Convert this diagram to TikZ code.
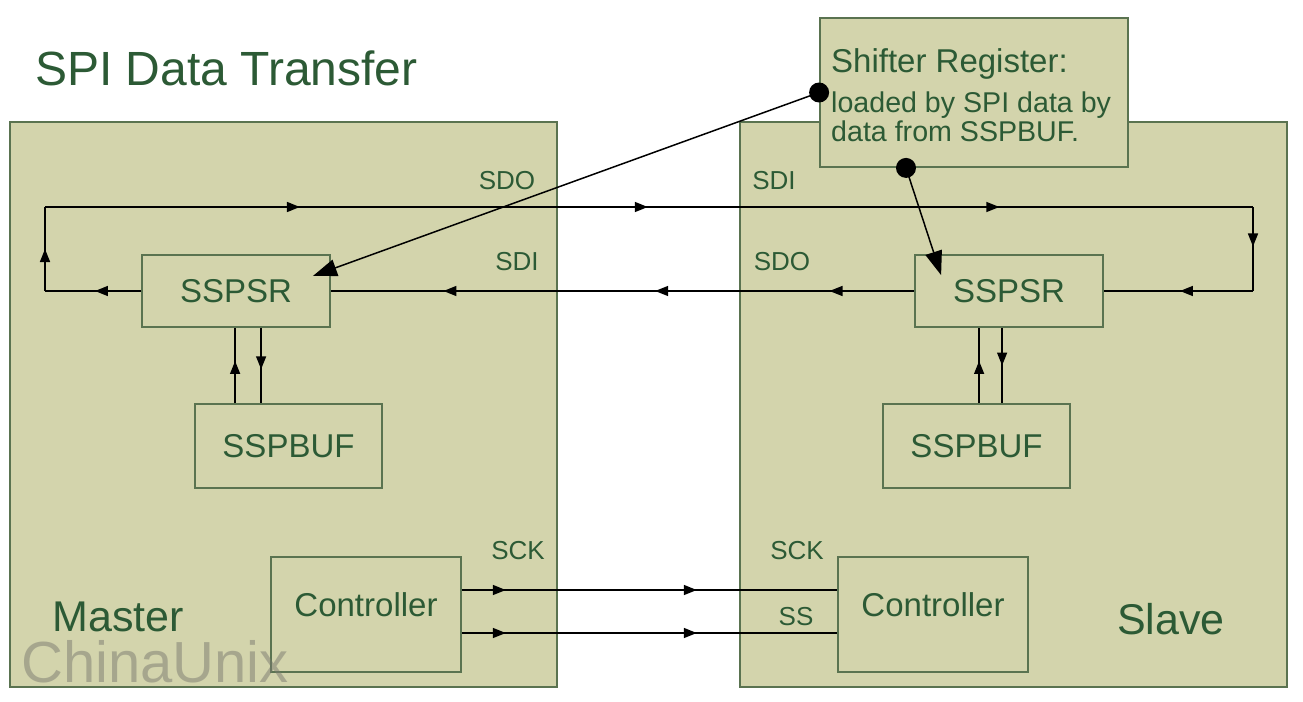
\documentclass[tikz,border=0pt]{standalone}
\usepackage{fontspec}
\setmainfont{Liberation Sans}
\usetikzlibrary{arrows.meta,decorations.markings}
\definecolor{khaki}{HTML}{D3D4AC}
\definecolor{edge}{HTML}{5A7350}
\definecolor{txt}{HTML}{2C5A35}
\definecolor{wm}{HTML}{7A7A70}
\newcommand\fsz[1]{\fontsize{#1}{#1}\selectfont}
\newcommand\tri{\arrow{Triangle[length=13pt,width=10pt]}}
\begin{document}
\begin{tikzpicture}[x=1pt,y=-1pt,
  blk/.style={draw=edge, line width=1.8pt, fill=khaki, text=txt, inner sep=0pt},
  wire/.style={draw=black, line width=1.5pt},
  lbl/.style={text=txt, inner sep=0pt, font=\fsz{26}},
  dot/.style={circle, fill=black, minimum size=20pt, inner sep=0pt},
  bigarr/.style={wire, -{Triangle[length=24pt,width=17pt]}},
  m1/.style={postaction={decorate}, decoration={markings, mark=at position #1 with {\tri}}},
  m2/.style 2 args={postaction={decorate}, decoration={markings, mark=at position #1 with {\tri}, mark=at position #2 with {\tri}}},
  m3/.style n args={3}{postaction={decorate}, decoration={markings, mark=at position #1 with {\tri}, mark=at position #2 with {\tri}, mark=at position #3 with {\tri}}}
]
\fill[white] (0,0) rectangle (1303,701);
\useasboundingbox (0,0) rectangle (1303,701);

% title
\node[text=txt, inner sep=0pt, anchor=base west, font=\fsz{48}] (title) at (35,85) {SPI Data Transfer};

% panels
\node[blk, minimum width=547pt, minimum height=565pt] (master) at (283.5,404.5) {};
\node[blk, minimum width=547pt, minimum height=565pt] (slave) at (1013.5,404.5) {};

% panel names
\node[text=txt, inner sep=0pt, anchor=base, font=\fsz{43}] (mname) at (118,631) {Master};
\node[text=txt, inner sep=0pt, font=\fsz{43}] (sname) at (1171,619) {Slave};

% inner blocks
\node[blk, font=\fsz{33}, minimum width=188pt, minimum height=72pt] (mSR) at (236,291) {SSPSR};
\node[blk, font=\fsz{33}, minimum width=187pt, minimum height=84pt] (mBUF) at (288.5,446) {SSPBUF};
\node[blk, font=\fsz{33}, text depth=19pt, minimum width=190pt, minimum height=115pt] (mCtl) at (366,614.5) {Controller};
\node[blk, font=\fsz{33}, minimum width=188pt, minimum height=72pt] (sSR) at (1009,291) {SSPSR};
\node[blk, font=\fsz{33}, minimum width=187pt, minimum height=84pt] (sBUF) at (976.5,446) {SSPBUF};
\node[blk, font=\fsz{33}, text depth=19pt, minimum width=190pt, minimum height=115pt] (sCtl) at (933,614.5) {Controller};

% watermark
\node[text=wm, text opacity=0.5, inner sep=0pt, anchor=base, font=\fsz{58}] (wmk) at (155,682) {ChinaUnix};

% loop corners
\coordinate (mL) at (45,291);
\coordinate (mT) at (45,207);
\coordinate (sT) at (1253,207);
\coordinate (sR) at (1253,291);

% data loop
\draw[wire, m1=0.48] (mSR.west) -- (mL);
\draw[wire, m1=0.5] (mL) -- (mT);
\draw[wire, m3={0.211}{0.499}{0.79}] (mT) -- (sT);
\draw[wire, m1=0.47] (sT) -- (sR);
\draw[wire, m1=0.49] (sR) -- (sSR.east);
\draw[wire, m3={0.145}{0.444}{0.807}] (sSR.west) -- (mSR.east);

% SSPSR <-> SSPBUF
\draw[wire, m1=0.56] ([xshift=41pt]mBUF.north west) -- ([xshift=94pt]mSR.south west);
\draw[wire, m1=0.55] ([xshift=120pt]mSR.south west) -- ([xshift=67pt]mBUF.north west);
\draw[wire, m1=0.56] ([xshift=97pt]sBUF.north west) -- ([xshift=65pt]sSR.south west);
\draw[wire, m1=0.5] ([xshift=88pt]sSR.south west) -- ([xshift=120pt]sBUF.north west);

% clock and select
\draw[wire, m2={0.117}{0.626}] ([yshift=24.5pt]mCtl.east) -- ([yshift=24.5pt]sCtl.west);
\draw[wire, m2={0.117}{0.626}] ([yshift=-18.5pt]mCtl.east) -- ([yshift=-18.5pt]sCtl.west);

% labels
\node[lbl] (l1) at (507,181) {SDO};
\node[lbl] (l2) at (517,262) {SDI};
\node[lbl] (l3) at (774,181) {SDI};
\node[lbl] (l4) at (782,262) {SDO};
\node[lbl] (l5) at (518,551) {SCK};
\node[lbl] (l6) at (797,551) {SCK};
\node[lbl] (l7) at (796,617) {SS};

% callout
\node[blk, minimum width=308pt, minimum height=149pt] (co) at (974,92.5) {};
\node[text=txt, inner sep=0pt, anchor=base west, font=\fsz{33}] (c1) at (831,73) {Shifter Register:};
\node[text=txt, inner sep=0pt, anchor=base west, font=\fsz{28.6}] (c2) at (831,112) {loaded by SPI data by};
\node[text=txt, inner sep=0pt, anchor=base west, font=\fsz{28.6}] (c3) at (831,141) {data from SSPBUF.};
\node[dot] (d1) at (co.west) {};
\node[dot] (d2) at ([xshift=-68pt]co.south) {};
\draw[bigarr] (d1.center) -- ([xshift=-18pt,yshift=15pt]mSR.east);
\draw[bigarr] (d2.center) -- ([xshift=27pt,yshift=-21pt]sSR.north west);
\end{tikzpicture}
\end{document}
